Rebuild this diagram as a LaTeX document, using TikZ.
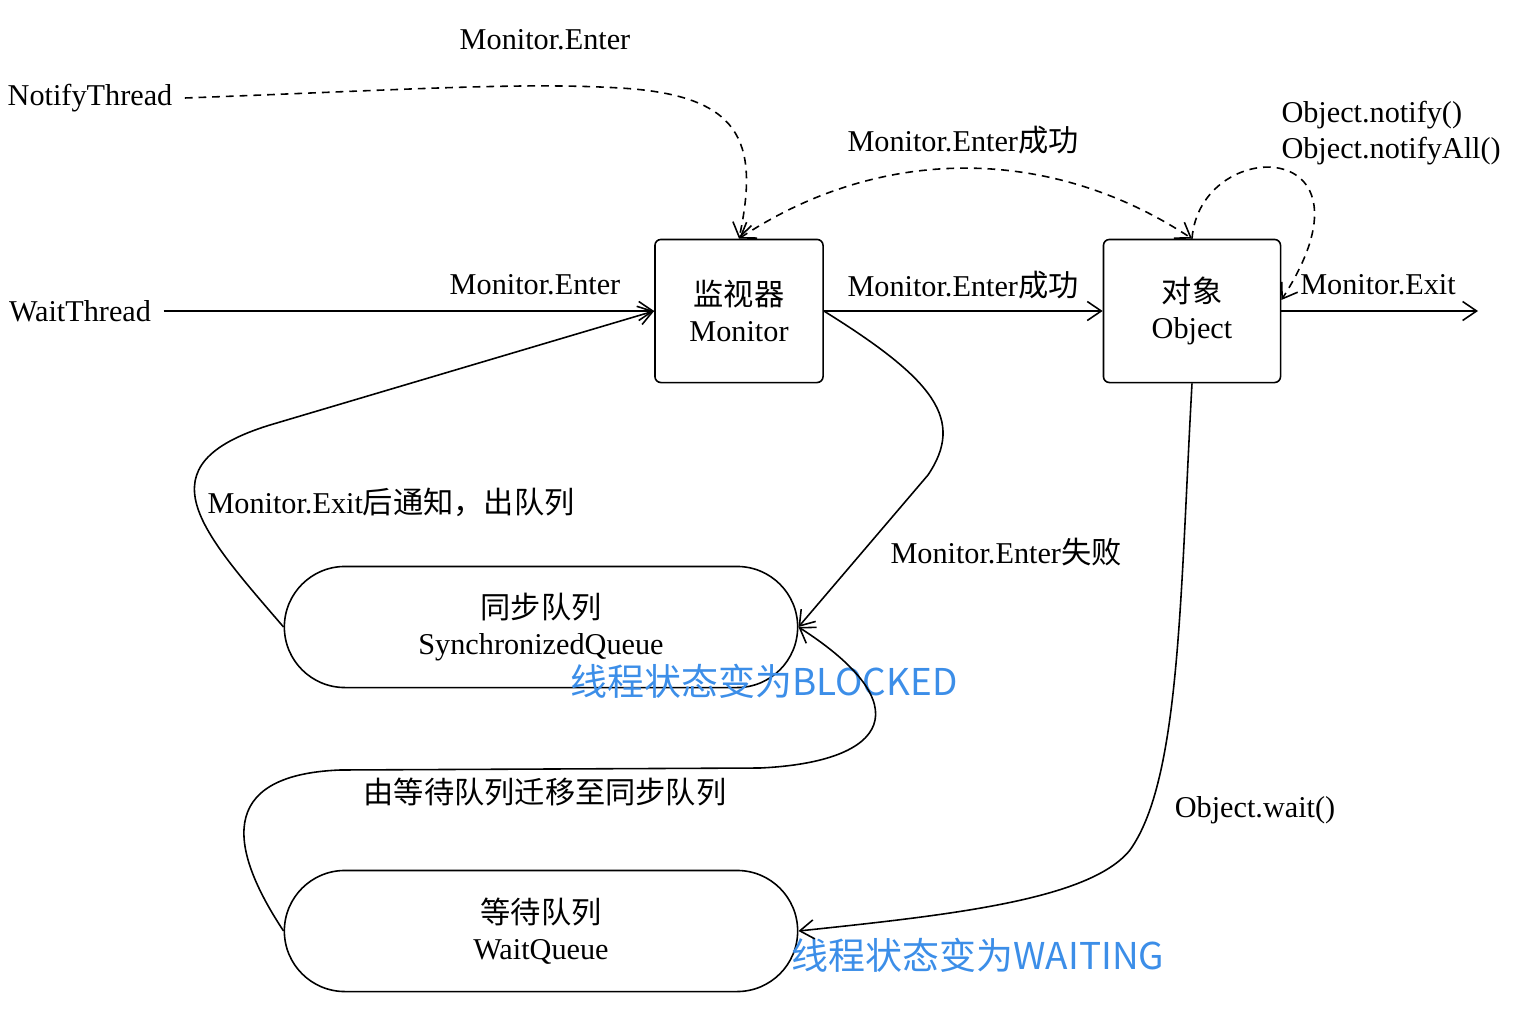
\documentclass[tikz,border=0pt]{standalone}
\usepackage{fontspec}
\setmainfont{Liberation Serif}
\newfontfamily\cjk{Noto Sans CJK SC}
\usetikzlibrary{arrows.meta,shapes.misc}
\definecolor{stateblue}{RGB}{60,142,232}

\begin{document}
\begin{tikzpicture}[x=0.01cm,y=-0.01cm,
  font=\fontsize{8.6}{10.2}\selectfont,
  line width=0.45pt,
  >={Straight Barb[length=1.4mm,width=1.9mm]},
  box/.style={draw,rounded corners=0.6mm,align=center,inner sep=0pt},
  queue/.style={draw,rounded rectangle,minimum width=5.13cm,minimum height=1.21cm,align=center,inner sep=0pt},
  dsh/.style={dash pattern=on 2.2pt off 1.7pt},
  state/.style={text=stateblue,font=\cjk\fontsize{10.5}{12}\selectfont}]
\useasboundingbox (0,0) rectangle (1530,1018);

 \node[box,minimum width=1.68cm,minimum height=1.43cm] (mon) at (739,311) {{\cjk 监视器}\\Monitor};
  \node[box,minimum width=1.77cm,minimum height=1.43cm] (obj) at (1192,311) {{\cjk 对象}\\Object};
   \node[queue] (syncq) at (541,627) {{\cjk 同步队列}\\SynchronizedQueue};
    \node[queue] (waitq) at (541,931) {{\cjk 等待队列}\\WaitQueue};
     \node (notify) at (90,98) {NotifyThread};
      \node (waitt) at (80,311) {WaitThread};
       \coordinate (exit) at (1478,311);

 \node (l1) at (545,40) {Monitor.Enter};
 \node (l2) at (535,285) {Monitor.Enter};
 \node (l3) at (963,140) {Monitor.Enter{\cjk 成功}};
 \node (l4) at (963,285) {Monitor.Enter{\cjk 成功}};
 \node[anchor=west,align=left] (l5) at (1269,133) {Object.notify()\\Object.notifyAll()};
 \node (l6) at (1378,285) {Monitor.Exit};
 \node[anchor=west] (l7) at (195,502) {Monitor.Exit{\cjk 后通知，出队列}};
 \node (l8) at (1006,552) {Monitor.Enter{\cjk 失败}};
 \node (l9) at (545,792) {\cjk 由等待队列迁移至同步队列};
 \node (l10) at (1255,810) {Object.wait()};
 \node[state] (s1) at (764,681) {线程状态变为BLOCKED};
 \node[state] (s2) at (978,955) {线程状态变为WAITING};

 % dashed
 \draw[dsh,->] (notify.east) .. controls (400,90) and (520,82) .. (620,88) .. controls (740,95) and (760,140) .. (mon.north);
 \draw[dsh,<->] (mon.north) .. controls (880,145) and (1050,145) .. (obj.north);
 \draw[dsh,->] (obj.north) .. controls (1200,135) and (1388,135) .. ([yshift=0.11cm]obj.east);

 \draw[->] (waitt.east) -- (mon.west);
 \draw[->] (mon.east) -- (obj.west);
 \draw[->] (obj.east) -- (exit);
 \draw[->] (syncq.west) .. controls (200,530) and (140,465) .. (270,425) -- (mon.west);
 \draw[->] (mon.east) .. controls (935,380) and (965,420) .. (928,475) -- (syncq.east);
 \draw[->] (obj.south) .. controls (1180,600) and (1180,780) .. (1130,850) .. controls (1090,900) and (950,915) .. (waitq.east);
 \draw[->] (waitq.west) .. controls (230,850) and (215,775) .. (340,770) -- (760,768) .. controls (890,762) and (920,705) .. (syncq.east);

\end{tikzpicture}
\end{document}
